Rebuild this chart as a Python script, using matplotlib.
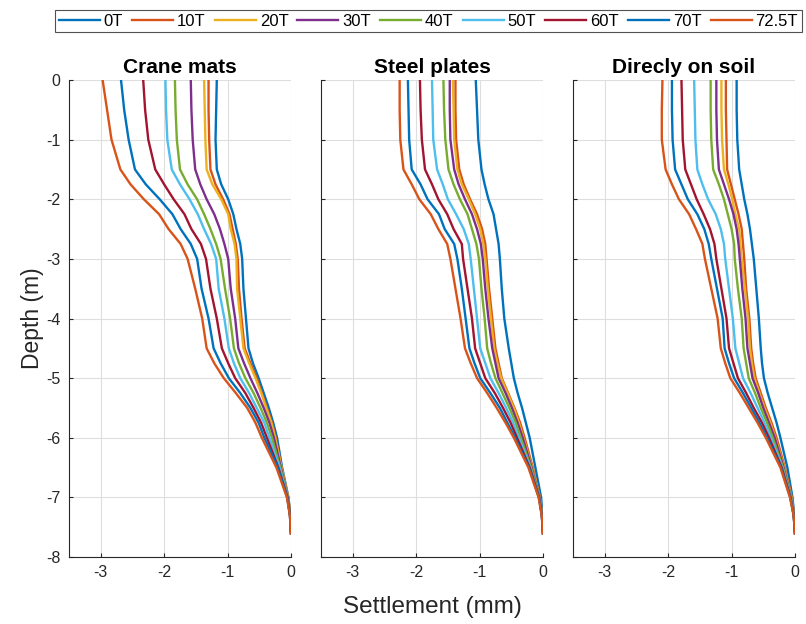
import matplotlib
matplotlib.use("Agg")
import matplotlib.pyplot as plt

plt.rcParams['font.family'] = ['Liberation Sans', 'DejaVu Sans']

depth = [0, -0.5, -1, -1.5, -1.75, -2, -2.25, -2.5, -2.75, -3, -3.5, -4, -4.5,
         -4.75, -5, -5.25, -5.5, -5.75, -6, -6.5, -7, -7.3, -7.6]
loads = ["0T", "10T", "20T", "30T", "40T", "50T", "60T", "70T", "72.5T"]
titles = ["Crane mats", "Steel plates", "Direcly on soil"]

crane_0 = [-1.17, -1.18, -1.19, -1.17, -1.10, -0.99, -0.91, -0.86, -0.80, -0.77, -0.75, -0.71, -0.67, -0.60, -0.51, -0.43, -0.35, -0.28, -0.22, -0.14, -0.04, -0.01, 0]
crane_10 = [-1.30, -1.30, -1.29, -1.27, -1.19, -1.07, -0.97, -0.92, -0.87, -0.84, -0.82, -0.78, -0.73, -0.64, -0.54, -0.46, -0.38, -0.30, -0.24, -0.15, -0.045, -0.012, 0]
crane_20 = [-1.37, -1.36, -1.35, -1.33, -1.24, -1.10, -0.99, -0.95, -0.89, -0.86, -0.85, -0.80, -0.75, -0.66, -0.56, -0.47, -0.39, -0.31, -0.25, -0.15, -0.045, -0.012, 0]
crane_30 = [-1.58, -1.57, -1.55, -1.51, -1.43, -1.33, -1.21, -1.12, -1.05, -0.99, -0.95, -0.88, -0.83, -0.74, -0.64, -0.53, -0.43, -0.34, -0.27, -0.16, -0.05, -0.013, 0]
crane_40 = [-1.83, -1.82, -1.80, -1.75, -1.63, -1.48, -1.37, -1.27, -1.18, -1.11, -1.04, -0.96, -0.90, -0.82, -0.72, -0.59, -0.48, -0.38, -0.30, -0.17, -0.05, -0.014, 0]
crane_50 = [-1.98, -1.97, -1.95, -1.88, -1.75, -1.60, -1.47, -1.37, -1.26, -1.18, -1.14, -1.05, -0.98, -0.90, -0.80, -0.66, -0.54, -0.42, -0.34, -0.18, -0.055, -0.015, 0]
crane_60 = [-2.33, -2.30, -2.25, -2.14, -2.00, -1.85, -1.68, -1.57, -1.42, -1.34, -1.27, -1.17, -1.09, -0.99, -0.88, -0.72, -0.59, -0.47, -0.38, -0.20, -0.055, -0.016, 0]
crane_70 = [-2.68, -2.63, -2.56, -2.46, -2.29, -2.07, -1.87, -1.74, -1.58, -1.48, -1.41, -1.30, -1.22, -1.11, -0.98, -0.80, -0.64, -0.51, -0.42, -0.21, -0.06, -0.017, 0]
crane_72 = [-2.97, -2.90, -2.83, -2.69, -2.53, -2.32, -2.08, -1.93, -1.74, -1.63, -1.51, -1.40, -1.33, -1.21, -1.06, -0.87, -0.69, -0.56, -0.46, -0.23, -0.065, -0.018, 0]

steel_0 = [-1.06, -1.04, -1.02, -0.97, -0.92, -0.86, -0.78, -0.74, -0.70, -0.68, -0.65, -0.61, -0.54, -0.50, -0.46, -0.40, -0.33, -0.27, -0.21, -0.12, -0.03, -0.01, 0]
steel_10 = [-1.38, -1.38, -1.37, -1.32, -1.25, -1.15, -1.04, -0.96, -0.91, -0.89, -0.85, -0.80, -0.75, -0.70, -0.65, -0.55, -0.45, -0.36, -0.29, -0.16, -0.05, -0.015, 0]
steel_20 = [-1.42, -1.41, -1.40, -1.35, -1.28, -1.17, -1.07, -0.99, -0.94, -0.91, -0.87, -0.82, -0.77, -0.72, -0.66, -0.56, -0.46, -0.38, -0.31, -0.17, -0.05, -0.015, 0]
steel_30 = [-1.47, -1.47, -1.46, -1.40, -1.33, -1.23, -1.12, -1.04, -0.98, -0.95, -0.91, -0.86, -0.80, -0.75, -0.70, -0.59, -0.49, -0.40, -0.32, -0.18, -0.055, -0.016, 0]
steel_40 = [-1.57, -1.56, -1.54, -1.49, -1.41, -1.31, -1.19, -1.12, -1.05, -1.01, -0.97, -0.92, -0.88, -0.82, -0.75, -0.64, -0.53, -0.43, -0.35, -0.19, -0.055, -0.016, 0]
steel_50 = [-1.75, -1.74, -1.73, -1.67, -1.58, -1.50, -1.37, -1.25, -1.17, -1.14, -1.09, -1.04, -0.99, -0.91, -0.83, -0.70, -0.58, -0.47, -0.38, -0.20, -0.06, -0.017, 0]
steel_60 = [-1.94, -1.93, -1.91, -1.86, -1.75, -1.65, -1.51, -1.41, -1.28, -1.26, -1.19, -1.12, -1.07, -0.99, -0.91, -0.76, -0.63, -0.51, -0.41, -0.21, -0.06, -0.018, 0]
steel_70 = [-2.13, -2.12, -2.11, -2.07, -1.93, -1.82, -1.64, -1.55, -1.40, -1.35, -1.28, -1.22, -1.16, -1.08, -0.99, -0.83, -0.68, -0.56, -0.44, -0.22, -0.065, -0.019, 0]
steel_72 = [-2.26, -2.26, -2.25, -2.20, -2.07, -1.95, -1.77, -1.65, -1.51, -1.46, -1.38, -1.30, -1.23, -1.14, -1.04, -0.88, -0.73, -0.59, -0.46, -0.23, -0.07, -0.02, 0]

soil_0 = [-0.92, -0.92, -0.91, -0.88, -0.84, -0.80, -0.75, -0.71, -0.68, -0.65, -0.61, -0.57, -0.54, -0.52, -0.49, -0.43, -0.36, -0.29, -0.23, -0.12, -0.04, -0.012, 0]
soil_10 = [-1.09, -1.09, -1.08, -1.07, -1.01, -0.95, -0.89, -0.84, -0.82, -0.80, -0.77, -0.72, -0.69, -0.66, -0.62, -0.54, -0.46, -0.37, -0.29, -0.16, -0.05, -0.015, 0]
soil_20 = [-1.16, -1.16, -1.15, -1.12, -1.05, -0.99, -0.94, -0.88, -0.86, -0.84, -0.79, -0.74, -0.71, -0.68, -0.64, -0.56, -0.48, -0.39, -0.31, -0.17, -0.055, -0.016, 0]
soil_30 = [-1.24, -1.24, -1.23, -1.20, -1.12, -1.04, -0.97, -0.92, -0.89, -0.87, -0.83, -0.78, -0.75, -0.71, -0.67, -0.58, -0.50, -0.41, -0.32, -0.18, -0.06, -0.017, 0]
soil_40 = [-1.33, -1.33, -1.32, -1.29, -1.20, -1.12, -1.06, -1.00, -0.96, -0.95, -0.90, -0.84, -0.81, -0.77, -0.73, -0.63, -0.54, -0.44, -0.35, -0.19, -0.06, -0.018, 0]
soil_50 = [-1.59, -1.58, -1.57, -1.54, -1.46, -1.37, -1.25, -1.17, -1.12, -1.10, -1.04, -0.98, -0.94, -0.88, -0.82, -0.70, -0.59, -0.48, -0.38, -0.20, -0.065, -0.019, 0]
soil_60 = [-1.79, -1.78, -1.77, -1.73, -1.64, -1.55, -1.44, -1.34, -1.27, -1.24, -1.16, -1.08, -1.04, -0.97, -0.90, -0.77, -0.65, -0.52, -0.41, -0.21, -0.07, -0.02, 0]
soil_70 = [-1.94, -1.94, -1.93, -1.89, -1.79, -1.69, -1.54, -1.43, -1.36, -1.32, -1.23, -1.14, -1.11, -1.04, -0.96, -0.82, -0.69, -0.56, -0.44, -0.22, -0.075, -0.021, 0]
soil_72 = [-2.09, -2.10, -2.10, -2.04, -1.94, -1.83, -1.67, -1.56, -1.46, -1.42, -1.32, -1.22, -1.17, -1.10, -1.02, -0.87, -0.73, -0.59, -0.46, -0.23, -0.08, -0.022, 0]

panels = [
    [crane_0, crane_10, crane_20, crane_30, crane_40, crane_50, crane_60, crane_70, crane_72],
    [steel_0, steel_10, steel_20, steel_30, steel_40, steel_50, steel_60, steel_70, steel_72],
    [soil_0, soil_10, soil_20, soil_30, soil_40, soil_50, soil_60, soil_70, soil_72],
]

colors = ["#0072BD", "#D95319", "#EDB120", "#7E2F8E", "#77AC30",
          "#4DBEEE", "#A2142F", "#0072BD", "#D95319"]

fig = plt.figure(figsize=(8.06, 6.24), dpi=100)
lefts = [69 / 806, 321 / 806, 573 / 806]
W = 222 / 806
B = 1 - 557 / 624
H = (557 - 80) / 624

axes = []
for i, (left, data, title) in enumerate(zip(lefts, panels, titles)):
    ax = fig.add_axes([left, B, W, H])
    for s, c, lab in zip(data, colors, loads):
        ax.plot(s, depth, color=c, lw=1.7, label=lab, solid_joinstyle="round")
    ax.set_xlim(-3.5, 0)
    ax.set_ylim(-8, 0)
    ax.set_xticks([-3, -2, -1, 0])
    ax.set_xticklabels(["-3", "-2", "-1", "0"])
    ax.set_yticks(range(-8, 1))
    ax.set_yticklabels([str(v) for v in range(-8, 1)])
    ax.grid(True, color="#dedede", lw=0.8)
    ax.set_axisbelow(True)
    for sp in ["top", "right"]:
        ax.spines[sp].set_visible(False)
    for sp in ["left", "bottom"]:
        ax.spines[sp].set_color("#262626")
        ax.spines[sp].set_linewidth(0.8)
    ax.tick_params(direction="in", length=3, labelsize=11.5, colors="#262626",
                   labelcolor="#262626", pad=6)
    if i > 0:
        ax.tick_params(labelleft=False)
    ax.set_title(title, fontsize=15, fontweight="bold", pad=5)
    axes.append(ax)

axes[0].set_ylabel("Depth (m)", fontsize=16.5, color="#262626", labelpad=2)
fig.text(432 / 806, 1 - 607 / 624, "Settlement (mm)", ha="center", va="center",
         fontsize=17.5, color="#262626")

handles, labels = axes[0].get_legend_handles_labels()
leg = fig.legend(handles, labels, loc="upper left", ncol=9,
                 bbox_to_anchor=(55 / 806, 1 - 10 / 624), frameon=True,
                 fontsize=12, handlelength=2.46, handletextpad=0.24,
                 columnspacing=0.54, borderpad=0.22, borderaxespad=0, fancybox=False)
leg.get_frame().set_edgecolor("#262626")
leg.get_frame().set_linewidth(0.8)

fig.savefig("out.png", dpi=100)
